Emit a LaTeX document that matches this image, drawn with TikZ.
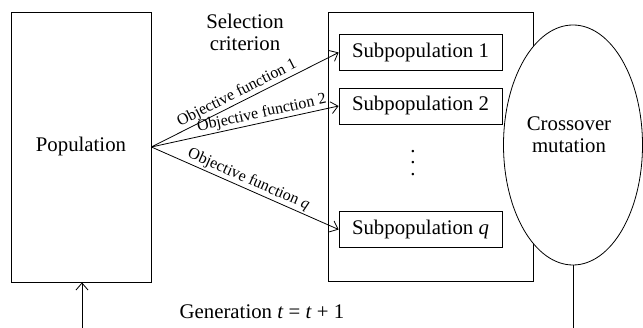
\documentclass[tikz,border=0pt]{standalone}
\usepackage{fontspec}
\setmainfont{Liberation Serif}
\usetikzlibrary{shapes.geometric,arrows.meta}
\begin{document}
\begin{tikzpicture}[x=1pt,y=-1pt,
  line width=0.8pt,
  every node/.style={font=\fontsize{20.8}{22}\selectfont},
  bigbox/.style={draw,rectangle,inner sep=0pt},
  subbox/.style={draw,rectangle,minimum width=163pt,minimum height=36pt,inner sep=0pt},
  arr/.style={-{Straight Barb[length=7pt,width=12pt]}},
  lbl/.style={font=\fontsize{16}{17}\selectfont,sloped,above,inner sep=1.5pt}]
\useasboundingbox (0,0) rectangle (643,328);
\node[bigbox,minimum width=140pt,minimum height=270pt] (pop) at (81,147) {Population};
\node[bigbox,minimum width=205pt,minimum height=269pt] (group) at (430.5,146.5) {};
\node[subbox] (s1) at (420.5,52.5) {Subpopulation 1};
\node[subbox] (s2) at (420.5,106) {Subpopulation 2};
\node[subbox] (sq) at (420.5,229.5) {Subpopulation \textit{q}};
\node[align=center,font=\fontsize{20.8}{11.5}\selectfont,inner sep=0pt] (dots) at (413,163) {.\\.\\.};
\node[draw,ellipse,fill=white,minimum width=139pt,minimum height=240pt,inner sep=0pt] (cm) at (573,145) {};
\node[align=center] (cmt) at (569,135) {Crossover\\mutation};
\node[align=center] (sel) at (245,32) {Selection\\criterion};
\node (gen) at (262,312) {Generation \textit{t} = \textit{t} + 1};
\coordinate (e1) at (573,328);
\coordinate (e2) at (82,328);
\draw[arr] (pop.east) -- node[lbl,pos=0.48] {Objective function 1} (s1.west);
\draw[arr] (pop.east) -- node[lbl,pos=0.6] {Objective function 2} (s2.west);
\draw[arr] (pop.east) -- node[lbl,pos=0.5] {Objective function \textit{q}} (sq.west);
\draw (cm.south) -- (e1);
\draw[arr] (e2) -- (pop.south -| e2);
\end{tikzpicture}
\end{document}
